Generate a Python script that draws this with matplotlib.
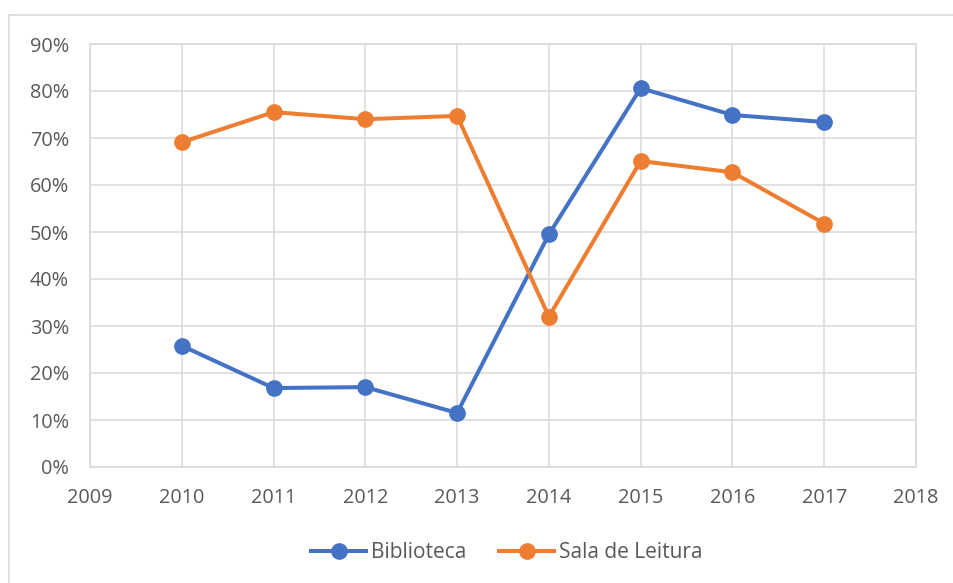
import matplotlib
matplotlib.use("Agg")
import matplotlib.pyplot as plt
from matplotlib.lines import Line2D
from matplotlib.ticker import PercentFormatter

# ---- data ----
years = [2010, 2011, 2012, 2013, 2014, 2015, 2016, 2017]
biblioteca = [25.8, 16.8, 17.0, 11.5, 49.5, 80.6, 74.9, 73.4]
sala_leitura = [69.1, 75.5, 74.0, 74.7, 32.0, 65.1, 62.7, 51.8]
xticks = list(range(2009, 2019))
yticks = list(range(0, 91, 10))

BLUE = "#4472C4"
ORANGE = "#ED7D31"
GRID = "#d9d9d9"
TXT = "#595959"

plt.rcParams["font.family"] = ["Open Sans", "DejaVu Sans"]

fig = plt.figure(figsize=(9.54, 5.83), dpi=100)
ax = fig.add_axes([90 / 954, 1 - 467 / 583, (916 - 90) / 954, (467 - 44) / 583])

ax.plot(years, biblioteca, color=BLUE, lw=2.9, marker="o", ms=11, label="Biblioteca")
ax.plot(years, sala_leitura, color=ORANGE, lw=2.9, marker="o", ms=11, label="Sala de Leitura")

ax.set_xlim(2009, 2018)
ax.set_ylim(0, 90)
ax.set_xticks(xticks)
ax.set_yticks(yticks)
ax.yaxis.set_major_formatter(PercentFormatter(decimals=0))
ax.grid(True, color=GRID, lw=1.1)
ax.set_axisbelow(True)
for s in ax.spines.values():
    s.set_color(GRID)
    s.set_linewidth(1.1)
ax.tick_params(length=0, labelsize=14.3, colors=TXT)
ax.tick_params(axis="x", pad=15)
ax.tick_params(axis="y", pad=15)

leg = fig.legend(loc="center", bbox_to_anchor=(507 / 954, 1 - 553 / 583), ncol=2,
                 frameon=False, fontsize=15, handlelength=2.65, handletextpad=0.25,
                 columnspacing=1.55)
for t in leg.get_texts():
    t.set_color(TXT)

# chart frame (only left and top edges are visible in the crop)
fig.add_artist(Line2D([9 / 954, 9 / 954], [0, 1 - 15 / 583], color=GRID, lw=1.2,
                      transform=fig.transFigure))
fig.add_artist(Line2D([9 / 954, 1], [1 - 15 / 583, 1 - 15 / 583], color=GRID, lw=1.2,
                      transform=fig.transFigure))

fig.savefig("out.png", dpi=100)
